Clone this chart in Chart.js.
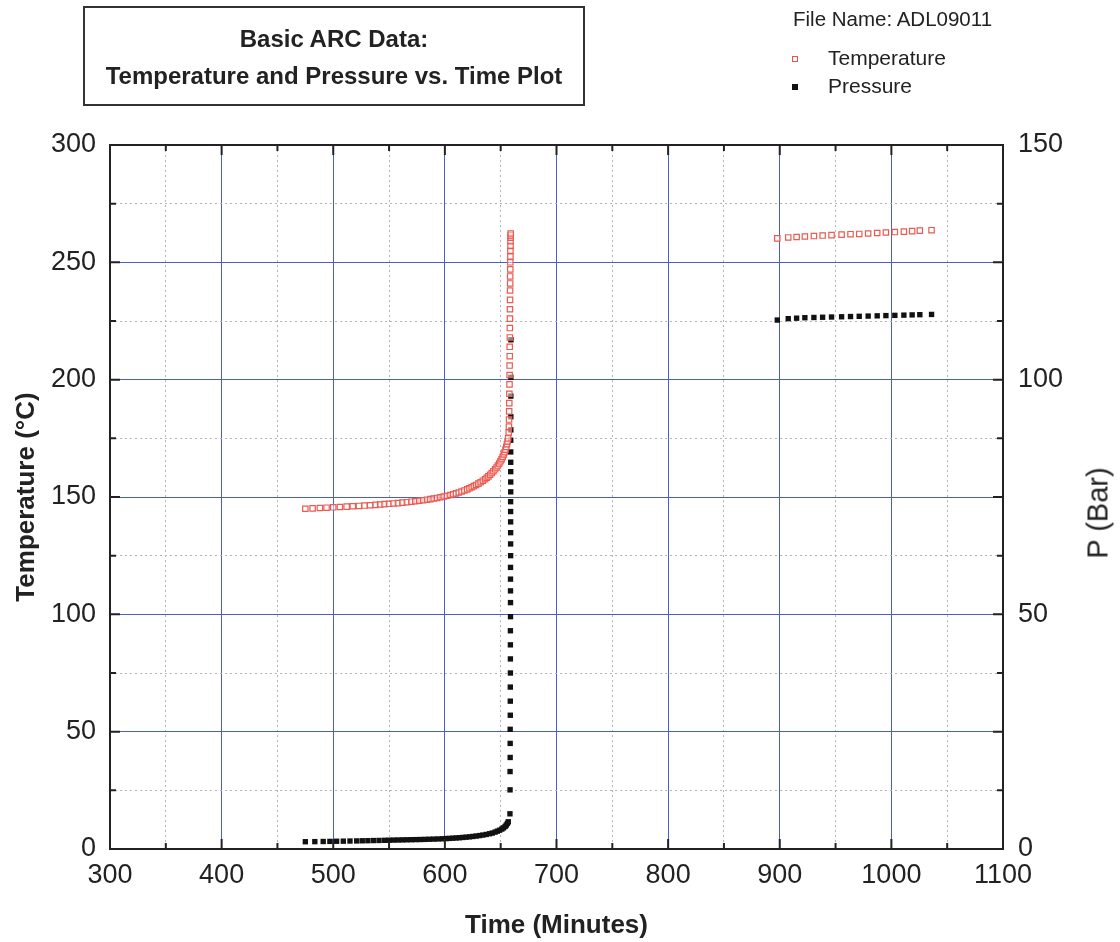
<!DOCTYPE html>
<html>
<head>
<meta charset="utf-8">
<script src="https://cdn.jsdelivr.net/npm/chart.js@4.4.1/dist/chart.umd.min.js"></script>
<style>
 body { margin: 0; background: #fff; font-family: "Liberation Sans", Arial, sans-serif; color: #222; }
 #wrap { position: relative; width: 1120px; height: 942px; }
 #chartCanvas { position: absolute; left: 0; top: 0; }
 .titleBox { position: absolute; left: 83px; top: 6px; width: 502px; height: 100px; box-sizing: border-box;
  border: 2px solid #333; text-align: center; font-weight: bold; font-size: 24px; line-height: 37px; padding-top: 12px; }
 .fileName { position: absolute; left: 793px; top: 7px; font-size: 20.5px; }
 .legendRow { position: absolute; left: 792px; font-size: 21px; }
 .legendRow span.mark { display: inline-block; width: 6px; height: 6px; margin-right: 30px; vertical-align: middle; box-sizing: border-box; }
 .pTitle { position: absolute; left: 1098px; top: 513px; font-size: 29px; transform: translate(-50%, -50%) rotate(-90deg); white-space: nowrap; }
</style>
</head>
<body>
<div id="wrap">
 <canvas id="chartCanvas" width="1120" height="942"></canvas>
 <div class="titleBox">Basic ARC Data:<br>Temperature and Pressure vs. Time Plot</div>
 <div class="fileName">File Name: ADL09011</div>
 <div class="legendRow" style="top:46px"><span class="mark" style="border:1px solid #e8574f"></span>Temperature</div>
 <div class="legendRow" style="top:74px"><span class="mark" style="background:#111"></span>Pressure</div>
 <div class="pTitle">P (Bar)</div>
</div>
<script>
// values
var tempTime = [
 475.0, 481.5, 488.0, 494.0, 500.0, 506.0, 512.0, 517.5, 523.0, 528.0,
 533.0, 538.0, 542.0, 546.0, 550.0, 554.0, 558.0, 562.0, 566.0, 570.0,
 573.5, 577.0, 580.5, 584.0, 587.0, 590.0, 593.0, 596.0, 599.0, 602.0,
 605.0, 607.5, 610.0, 612.5, 615.0, 617.5, 620.0, 622.0, 624.0, 626.0,
 628.0, 630.0, 632.0, 634.0, 636.0, 637.5, 639.0, 640.5, 642.0, 643.5,
 645.0, 646.3, 647.5, 648.7, 649.8, 650.8, 651.8, 652.7, 653.5, 654.3,
 655.0, 655.6, 656.2, 656.7,
 657.2, 657.4, 657.5, 657.6, 657.7, 657.8, 657.9, 658.0, 658.0, 658.1,
 658.1, 658.2, 658.2, 658.3, 658.3, 658.4, 658.4, 658.5, 658.5, 658.6,
 658.6, 658.7, 658.7, 658.8, 658.8, 658.9, 658.9, 659.0,
 897.8, 907.6, 915.1, 922.5, 930.6, 938.4, 946.4, 955.4, 963.4, 971.2,
 979.2, 987.3, 995.1, 1003.1, 1011.2, 1018.6, 1025.5, 1036.0
];
var tempC = [
 145.0, 145.15, 145.3, 145.45, 145.6, 145.75, 145.9, 146.05, 146.2, 146.35,
 146.5, 146.65, 146.8, 146.95, 147.1, 147.25, 147.4, 147.6, 147.8, 148.0,
 148.2, 148.4, 148.6, 148.85, 149.1, 149.35, 149.6, 149.9, 150.2, 150.5,
 150.85, 151.2, 151.55, 151.95, 152.35, 152.8, 153.25, 153.7, 154.15, 154.65,
 155.15, 155.7, 156.3, 156.95, 157.6, 158.2, 158.8, 159.5, 160.2, 161.0,
 161.8, 162.6, 163.4, 164.3, 165.2, 166.1, 167.1, 168.1, 169.1, 170.2,
 171.3, 172.5, 173.7, 175.0,
 177.5, 180.0, 183.0, 186.5, 190.0, 194.0, 198.0, 202.0, 206.0, 210.0,
 214.0, 218.0, 222.0, 226.0, 230.0, 234.0, 238.0, 241.0, 244.0, 247.0,
 250.0, 252.5, 255.0, 257.0, 259.0, 260.5, 261.5, 262.3,
 260.2, 260.6, 260.8, 261.0, 261.2, 261.4, 261.6, 261.8, 262.0, 262.1,
 262.3, 262.5, 262.7, 262.9, 263.1, 263.3, 263.5, 263.7
];

var pressTime = [
 475.0, 483.5, 491.0, 497.0, 503.0, 509.0, 515.0, 521.0, 526.0, 531.0,
 536.0, 541.0, 546.0, 550.0, 554.0, 558.0, 562.0, 566.0, 570.0, 574.0,
 578.0, 582.0, 586.0, 590.0, 594.0, 598.0, 601.0, 604.0, 607.0, 610.0,
 613.0, 616.0, 619.0, 622.0, 625.0, 628.0, 631.0, 634.0, 637.0, 640.0,
 642.5, 645.0, 647.0, 649.0, 651.0, 652.5, 654.0, 655.0, 656.0, 656.8,
 658.3, 658.4, 658.4, 658.5, 658.5, 658.5, 658.6, 658.6, 658.6, 658.7,
 658.7, 658.7, 658.7, 658.8, 658.8, 658.8, 658.8, 658.8, 658.9, 658.9,
 658.9, 658.9, 658.9, 658.9, 659.0, 659.0, 659.0, 659.0, 659.0, 659.0,
 659.1, 659.1, 659.1, 659.1, 659.2,
 897.8, 907.6, 915.1, 922.5, 930.6, 938.4, 946.4, 955.4, 963.4, 971.2,
 979.2, 987.3, 995.1, 1003.1, 1011.2, 1018.6, 1025.5, 1036.0
];
var pressBar = [
 1.55, 1.57, 1.6, 1.62, 1.65, 1.67, 1.7, 1.72, 1.75, 1.77,
 1.8, 1.82, 1.85, 1.87, 1.9, 1.92, 1.94, 1.96, 1.98, 2.0,
 2.02, 2.05, 2.08, 2.11, 2.14, 2.18, 2.22, 2.26, 2.3, 2.35,
 2.4, 2.46, 2.52, 2.59, 2.67, 2.76, 2.86, 2.97, 3.1, 3.25,
 3.4, 3.6, 3.8, 4.0, 4.25, 4.5, 4.8, 5.1, 5.45, 5.8,
 7.5, 12.6, 16.5, 19.5, 22.5, 25.5, 28.5, 31.5, 34.5, 37.5,
 40.5, 43.5, 46.5, 49.5, 52.5, 55.0, 57.5, 60.0, 62.5, 65.0,
 67.4, 69.7, 71.9, 74.0, 76.1, 78.2, 80.4, 82.4, 84.6, 87.1,
 89.3, 92.1, 96.5, 100.5, 108.5,
 112.7, 113.0, 113.1, 113.2, 113.25, 113.3, 113.35, 113.4, 113.45, 113.5,
 113.55, 113.6, 113.65, 113.7, 113.75, 113.8, 113.85, 113.9
];

var timeMajor = [300, 400, 500, 600, 700, 800, 900, 1000, 1100];
var timeMinor = [350, 450, 550, 650, 750, 850, 950, 1050];
var tempMajor = [0, 50, 100, 150, 200, 250, 300];
var tempMinor = [25, 75, 125, 175, 225, 275];
var pressLabels = [0, 50, 100, 150];

var gridBlue = "#4a5cd0";
var minorGray = "#b4b4b4";

function toPoints(xs, ys) {
 return xs.map(function (x, i) {
  return { x: x, y: ys[i] };
 });
}

function plainLabel(value) {
 return String(value);
}

// frame and inward tick marks on all four sides
var frameTicks = {
 id: "frameTicks",
 afterDatasetsDraw: function (chart) {
  var ctx = chart.ctx;
  var a = chart.chartArea;
  var xs = chart.scales.x;
  var ys = chart.scales.y;
  ctx.save();
  ctx.strokeStyle = "#222";
  ctx.lineWidth = 2;
  function tickX(v, len) {
   var px = xs.getPixelForValue(v);
   ctx.beginPath();
   ctx.moveTo(px, a.bottom);
   ctx.lineTo(px, a.bottom - len);
   ctx.moveTo(px, a.top);
   ctx.lineTo(px, a.top + len);
   ctx.stroke();
  }
  function tickY(v, len) {
   var py = ys.getPixelForValue(v);
   ctx.beginPath();
   ctx.moveTo(a.left, py);
   ctx.lineTo(a.left + len, py);
   ctx.moveTo(a.right, py);
   ctx.lineTo(a.right - len, py);
   ctx.stroke();
  }
  timeMajor.forEach(function (v) { tickX(v, 10); });
  timeMinor.forEach(function (v) { tickX(v, 6); });
  tempMajor.forEach(function (v) { tickY(v, 10); });
  tempMinor.forEach(function (v) { tickY(v, 6); });
  ctx.strokeRect(a.left, a.top, a.right - a.left, a.bottom - a.top);
  ctx.restore();
 },
};

new Chart(document.getElementById("chartCanvas"), {
 type: "scatter",
 data: {
  datasets: [
   {
    label: "Temperature",
    data: toPoints(tempTime, tempC),
    pointStyle: "rect",
    pointRadius: 3.8,
    pointBorderWidth: 1.2,
    borderColor: "#ea5a50",
    backgroundColor: "rgba(255,255,255,0.5)",
    showLine: false,
    yAxisID: "y",
   },
   {
    label: "Pressure",
    data: toPoints(pressTime, pressBar),
    pointStyle: "rect",
    pointRadius: 3.8,
    pointBorderWidth: 0,
    borderColor: "#111",
    backgroundColor: "#111",
    showLine: false,
    yAxisID: "y2",
   },
  ],
 },
 options: {
  responsive: false,
  devicePixelRatio: 1,
  animation: false,
  layout: { padding: { top: 145, left: 0, right: 0, bottom: 0 } },
  plugins: {
   legend: { display: false },
   tooltip: { enabled: false },
  },
  scales: {
   x: {
    type: "linear",
    position: "bottom",
    min: 300,
    max: 1100,
    afterBuildTicks: function (scale) {
     scale.ticks = timeMajor.map(function (v) { return { value: v }; });
    },
    afterFit: function (scale) { scale.height = 93; },
    ticks: { font: { size: 27, family: "Liberation Sans" }, color: "#222", padding: 10, callback: plainLabel },
    grid: { color: gridBlue, lineWidth: 1, drawTicks: false },
    border: { display: false },
    title: {
     display: true,
     text: "Time (Minutes)",
     font: { size: 26, weight: "bold", family: "Liberation Sans" },
     color: "#222",
     padding: { top: 0, bottom: 1 },
    },
   },
   xMinor: {
    type: "linear",
    position: "bottom",
    min: 300,
    max: 1100,
    afterBuildTicks: function (scale) {
     scale.ticks = timeMinor.map(function (v) { return { value: v }; });
    },
    afterFit: function (scale) { scale.height = 0; },
    ticks: { display: false },
    grid: { color: minorGray, lineWidth: 1, drawTicks: false },
    border: { display: false, dash: [2, 3] },
   },
   y: {
    type: "linear",
    position: "left",
    min: 0,
    max: 300,
    afterBuildTicks: function (scale) {
     scale.ticks = tempMajor.map(function (v) { return { value: v }; });
    },
    afterFit: function (scale) { scale.width = 110; },
    ticks: { font: { size: 27, family: "Liberation Sans" }, color: "#222", padding: 14, callback: plainLabel },
    grid: { color: gridBlue, lineWidth: 1, drawTicks: false },
    border: { display: false },
    title: {
     display: true,
     text: "Temperature (°C)",
     font: { size: 26, weight: "bold", family: "Liberation Sans" },
     color: "#222",
     padding: { top: 11, bottom: 0 },
    },
   },
   yMinor: {
    type: "linear",
    position: "left",
    min: 0,
    max: 300,
    afterBuildTicks: function (scale) {
     scale.ticks = tempMinor.map(function (v) { return { value: v }; });
    },
    afterFit: function (scale) { scale.width = 0; },
    ticks: { display: false },
    grid: { color: minorGray, lineWidth: 1, drawTicks: false },
    border: { display: false, dash: [2, 3] },
   },
   y2: {
    type: "linear",
    position: "right",
    min: 0,
    max: 150,
    afterBuildTicks: function (scale) {
     scale.ticks = pressLabels.map(function (v) { return { value: v }; });
    },
    afterFit: function (scale) { scale.width = 117; },
    ticks: { font: { size: 27, family: "Liberation Sans" }, color: "#222", padding: 15, callback: plainLabel },
    grid: { drawOnChartArea: false, drawTicks: false },
    border: { display: false },
   },
  },
 },
 plugins: [frameTicks],
});
</script>
</body>
</html>
